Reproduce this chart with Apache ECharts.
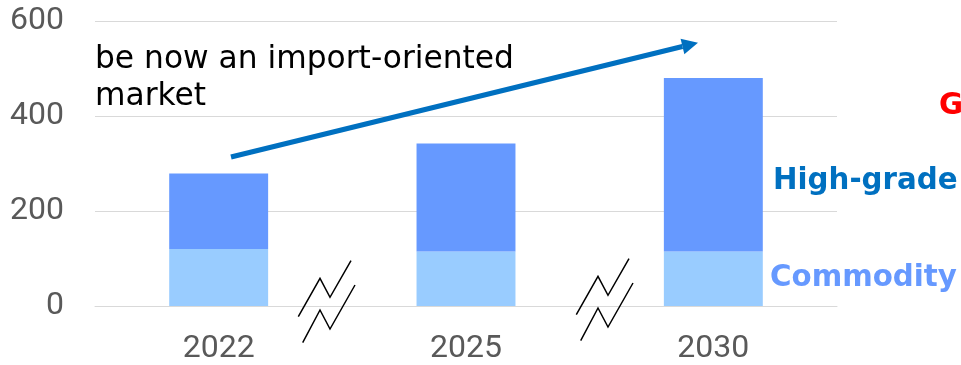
<!DOCTYPE html>
<html>
<head>
<meta charset="utf-8">
<script src="https://cdn.jsdelivr.net/npm/echarts@6/dist/echarts.min.js"></script>
<style>
  html, body { margin: 0; padding: 0; background: #ffffff; }
  #chart { width: 961px; height: 365px; }
</style>
</head>
<body>
<div id="chart"></div>
<script>
// Market volume by year, split into commodity and high-grade segments
const categories = ['2022', '2025', '2030'];
const commodity = [120, 115, 115];
const highGrade = [159, 227, 365];
const yTicks = [0, 200, 400, 600];
const seriesNames = ['Commodity', 'High-grade'];
const note = 'be now an import-oriented\nmarket';

const COMMODITY_COLOR = '#99CCFF';
const HIGHGRADE_COLOR = '#6699FF';
const AXIS_TEXT = '#595959';
const GRID_LINE = '#D9D9D9';

const chart = echarts.init(document.getElementById('chart'), null, { renderer: 'canvas' });

// zigzag "axis break" glyph, offset to a given position
function breakMark(dx, dy) {
  const upper = [[298.3, 316.7], [320, 278.3], [330, 297.3], [351, 260.7]];
  const lower = [[302.7, 342.7], [320, 310], [330, 329], [355, 285]];
  const shift = pts => pts.map(p => [p[0] + dx, p[1] + dy]);
  const style = { stroke: '#000000', lineWidth: 1.5, fill: null };
  return [
    { type: 'polyline', shape: { points: shift(upper) }, style: style, z: 10 },
    { type: 'polyline', shape: { points: shift(lower) }, style: style, z: 10 }
  ];
}

// trend arrow: shaft plus triangular head
function arrow(x1, y1, x2, y2, color, width, headLen, headHalf) {
  const ang = Math.atan2(y2 - y1, x2 - x1);
  const bx = x2 - headLen * Math.cos(ang);
  const by = y2 - headLen * Math.sin(ang);
  const nx = -Math.sin(ang), ny = Math.cos(ang);
  return [
    { type: 'line', shape: { x1: x1, y1: y1, x2: bx, y2: by },
      style: { stroke: color, lineWidth: width }, z: 10 },
    { type: 'polygon',
      shape: { points: [[x2, y2], [bx + nx * headHalf, by + ny * headHalf], [bx - nx * headHalf, by - ny * headHalf]] },
      style: { fill: color }, z: 10 }
  ];
}

const option = {
  animation: false,
  backgroundColor: '#ffffff',
  grid: { left: 95, right: 124, top: 21, bottom: 58, containLabel: false },
  xAxis: {
    type: 'category',
    data: categories,
    axisLine: { show: true, lineStyle: { color: GRID_LINE, width: 1 } },
    axisTick: { show: false },
    axisLabel: {
      color: AXIS_TEXT, fontFamily: 'Roboto', fontSize: 32, lineHeight: 32, margin: 27
    }
  },
  yAxis: {
    type: 'value',
    min: yTicks[0],
    max: yTicks[yTicks.length - 1],
    interval: yTicks[1] - yTicks[0],
    axisLine: { show: false },
    axisTick: { show: false },
    splitLine: { lineStyle: { color: GRID_LINE, width: 1 } },
    axisLabel: { color: AXIS_TEXT, fontFamily: 'Roboto', fontSize: 32, margin: 31 }
  },
  series: [
    {
      name: seriesNames[0], type: 'bar', stack: 'total', barWidth: '40%',
      itemStyle: { color: COMMODITY_COLOR }, data: commodity
    },
    {
      name: seriesNames[1], type: 'bar', stack: 'total', barWidth: '40%',
      itemStyle: { color: HIGHGRADE_COLOR }, data: highGrade
    }
  ],
  graphic: [
    {
      type: 'text', left: 95, top: 41, z: 10,
      style: {
        text: note, fill: '#000000', fontFamily: 'DejaVu Sans', fontSize: 31.3, lineHeight: 37
      }
    },
    ...arrow(231, 157, 698, 42.7, '#0070C0', 5, 16, 8),
    {
      type: 'text', x: 939, y: 106, z: 10,
      style: { text: 'G', fill: '#FF0000', fontFamily: 'DejaVu Sans', fontWeight: 'bold',
        fontSize: 29.3, verticalAlign: 'middle', align: 'left' }
    },
    {
      type: 'text', x: 773, y: 181.5, z: 10,
      style: { text: seriesNames[1], fill: '#0070C0', fontFamily: 'DejaVu Sans', fontWeight: 'bold',
        fontSize: 29.3, verticalAlign: 'middle', align: 'left' }
    },
    {
      type: 'text', x: 770, y: 278, z: 10,
      style: { text: seriesNames[0], fill: HIGHGRADE_COLOR, fontFamily: 'DejaVu Sans', fontWeight: 'bold',
        fontSize: 29.3, verticalAlign: 'middle', align: 'left' }
    },
    ...breakMark(0, 0),
    ...breakMark(278, -2)
  ]
};

chart.setOption(option);
</script>
</body>
</html>
